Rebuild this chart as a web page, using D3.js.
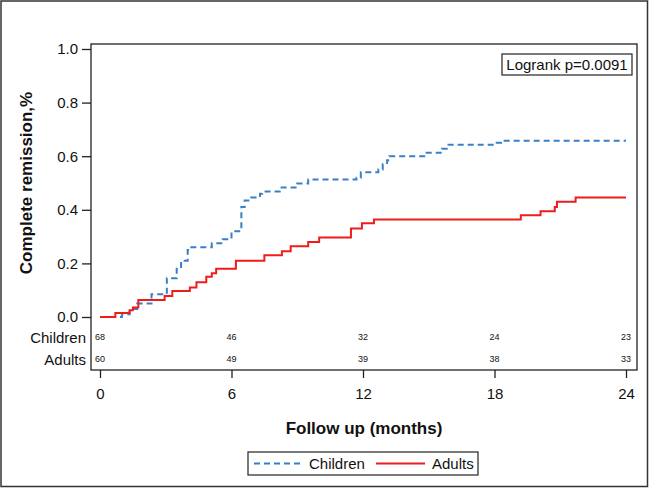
<!DOCTYPE html>
<html>
<head>
<meta charset="utf-8">
<script src="https://cdn.jsdelivr.net/npm/d3@7"></script>
<style>
  body { margin: 0; background: #fff; overflow: hidden; }
  text { font-family: "Liberation Sans", Arial, sans-serif; fill: #111; }
</style>
</head>
<body>
<div id="chart"></div>
<script>
// step times (months) and cumulative remission for each group
const childTimes = [0, 1.0, 1.35, 1.7, 2.35, 3.05, 3.5, 3.7, 4.0, 4.1, 5.1, 5.6, 6.0, 6.45, 6.6, 6.9, 7.3, 7.4, 8.2, 9.0, 9.5, 11.7, 11.9, 12.7, 12.9, 13.1, 13.2, 14.9, 15.6, 15.9, 18.1, 18.3];
const childValues = [0, 0.01, 0.03, 0.05, 0.085, 0.145, 0.18, 0.21, 0.25, 0.26, 0.275, 0.29, 0.32, 0.41, 0.435, 0.446, 0.46, 0.468, 0.483, 0.498, 0.513, 0.52, 0.54, 0.55, 0.57, 0.585, 0.6, 0.613, 0.628, 0.643, 0.65, 0.658];
const adultTimes = [0, 0.7, 1.35, 1.5, 1.75, 2.95, 3.3, 4.1, 4.4, 4.85, 5.1, 5.3, 6.2, 7.5, 8.3, 8.7, 9.5, 10.0, 11.45, 11.95, 12.5, 19.2, 20.1, 20.75, 20.85, 21.7];
const adultValues = [0, 0.015, 0.025, 0.035, 0.063, 0.078, 0.097, 0.11, 0.13, 0.15, 0.163, 0.18, 0.21, 0.23, 0.245, 0.264, 0.28, 0.297, 0.33, 0.35, 0.364, 0.38, 0.395, 0.41, 0.43, 0.446];
const endTime = 24;

const xTicks = [0, 6, 12, 18, 24];
const yTicks = [0, 0.2, 0.4, 0.6, 0.8, 1.0];
const riskGroups = ["Children", "Adults"];
const childAtRisk = [68, 46, 32, 24, 23];
const adultAtRisk = [60, 49, 39, 38, 33];

const width = 649, height = 488;
const frame = { left: 91, top: 44, right: 637, bottom: 370 };

const svg = d3
  .select("#chart")
  .append("svg")
  .attr("width", width)
  .attr("height", height);

// outer border of the figure
svg
  .append("rect")
  .attr("x", 1)
  .attr("y", 1)
  .attr("width", width - 2.5)
  .attr("height", height - 2.5)
  .attr("fill", "none")
  .attr("stroke", "#333")
  .attr("stroke-width", 1.5);

const x = d3.scaleLinear().domain([0, 24]).range([100, 626]);
const y = d3.scaleLinear().domain([0, 1]).range([317, 49]);

svg
  .append("rect")
  .attr("x", frame.left)
  .attr("y", frame.top)
  .attr("width", frame.right - frame.left)
  .attr("height", frame.bottom - frame.top)
  .attr("fill", "none")
  .attr("stroke", "#222")
  .attr("stroke-width", 1.3);

const yAxis = svg
  .append("g")
  .attr("transform", "translate(" + frame.left + ",0)")
  .call(d3.axisLeft(y).tickValues(yTicks).tickFormat(d3.format(".1f")).tickSize(9).tickPadding(4));
yAxis.select(".domain").remove();
yAxis.selectAll("line").attr("stroke", "#222").attr("stroke-width", 1.3);
yAxis.selectAll("text").style("font-size", "15px").attr("fill", "#111");

const xAxis = svg
  .append("g")
  .attr("transform", "translate(0," + frame.bottom + ")")
  .call(d3.axisBottom(x).tickValues(xTicks).tickSize(8).tickPadding(10));
xAxis.select(".domain").remove();
xAxis.selectAll("line").attr("stroke", "#222").attr("stroke-width", 1.3);
xAxis.selectAll("text").style("font-size", "15px").attr("fill", "#111");

function stepPoints(times, values) {
  const pts = times.map((t, i) => [t, values[i]]);
  pts.push([endTime, values[values.length - 1]]);
  return pts;
}

const line = d3
  .line()
  .x((d) => x(d[0]))
  .y((d) => y(d[1]))
  .curve(d3.curveStepAfter);

svg
  .append("path")
  .datum(stepPoints(childTimes, childValues))
  .attr("d", line)
  .attr("fill", "none")
  .attr("stroke", "#3b7fc6")
  .attr("stroke-width", 2)
  .attr("stroke-dasharray", "6,4");

svg
  .append("path")
  .datum(stepPoints(adultTimes, adultValues))
  .attr("d", line)
  .attr("fill", "none")
  .attr("stroke", "#ee1c1c")
  .attr("stroke-width", 2);

// numbers at risk
const riskRows = [childAtRisk, adultAtRisk];
const rowY = [342.5, 364.5];
riskGroups.forEach((g, i) => {
  svg
    .append("text")
    .attr("x", 86)
    .attr("y", rowY[i])
    .attr("text-anchor", "end")
    .style("font-size", "15px")
    .text(g);
  svg
    .selectAll(".risk" + i)
    .data(riskRows[i])
    .enter()
    .append("text")
    .attr("x", (d, j) => x(xTicks[j]))
    .attr("y", rowY[i] - 2.5)
    .attr("text-anchor", "middle")
    .style("font-size", "9px")
    .attr("fill", "#444")
    .text((d) => d);
});

// logrank box
svg
  .append("rect")
  .attr("x", 502)
  .attr("y", 54)
  .attr("width", 130)
  .attr("height", 21)
  .attr("fill", "#fff")
  .attr("stroke", "#222")
  .attr("stroke-width", 1.2);
svg
  .append("text")
  .attr("x", 567)
  .attr("y", 69.5)
  .attr("text-anchor", "middle")
  .style("font-size", "15px")
  .text("Logrank p=0.0091");

// axis titles
svg
  .append("text")
  .attr("transform", "rotate(-90)")
  .attr("x", -183)
  .attr("y", 32)
  .attr("text-anchor", "middle")
  .style("font-size", "17px")
  .style("font-weight", "bold")
  .text("Complete remission,%");

svg
  .append("text")
  .attr("x", 364)
  .attr("y", 434)
  .attr("text-anchor", "middle")
  .style("font-size", "17px")
  .style("font-weight", "bold")
  .text("Follow up (months)");

// legend
const legend = svg.append("g");
legend
  .append("rect")
  .attr("x", 248)
  .attr("y", 452)
  .attr("width", 230)
  .attr("height", 23)
  .attr("fill", "#fff")
  .attr("stroke", "#222")
  .attr("stroke-width", 1.2);
legend
  .append("line")
  .attr("x1", 254)
  .attr("x2", 302)
  .attr("y1", 463.5)
  .attr("y2", 463.5)
  .attr("stroke", "#3b7fc6")
  .attr("stroke-width", 2)
  .attr("stroke-dasharray", "6,4");
legend
  .append("text")
  .attr("x", 309)
  .attr("y", 469)
  .style("font-size", "15px")
  .text("Children");
legend
  .append("line")
  .attr("x1", 376)
  .attr("x2", 425)
  .attr("y1", 463.5)
  .attr("y2", 463.5)
  .attr("stroke", "#ee1c1c")
  .attr("stroke-width", 2);
legend
  .append("text")
  .attr("x", 432)
  .attr("y", 469)
  .style("font-size", "15px")
  .text("Adults");
</script>
</body>
</html>
